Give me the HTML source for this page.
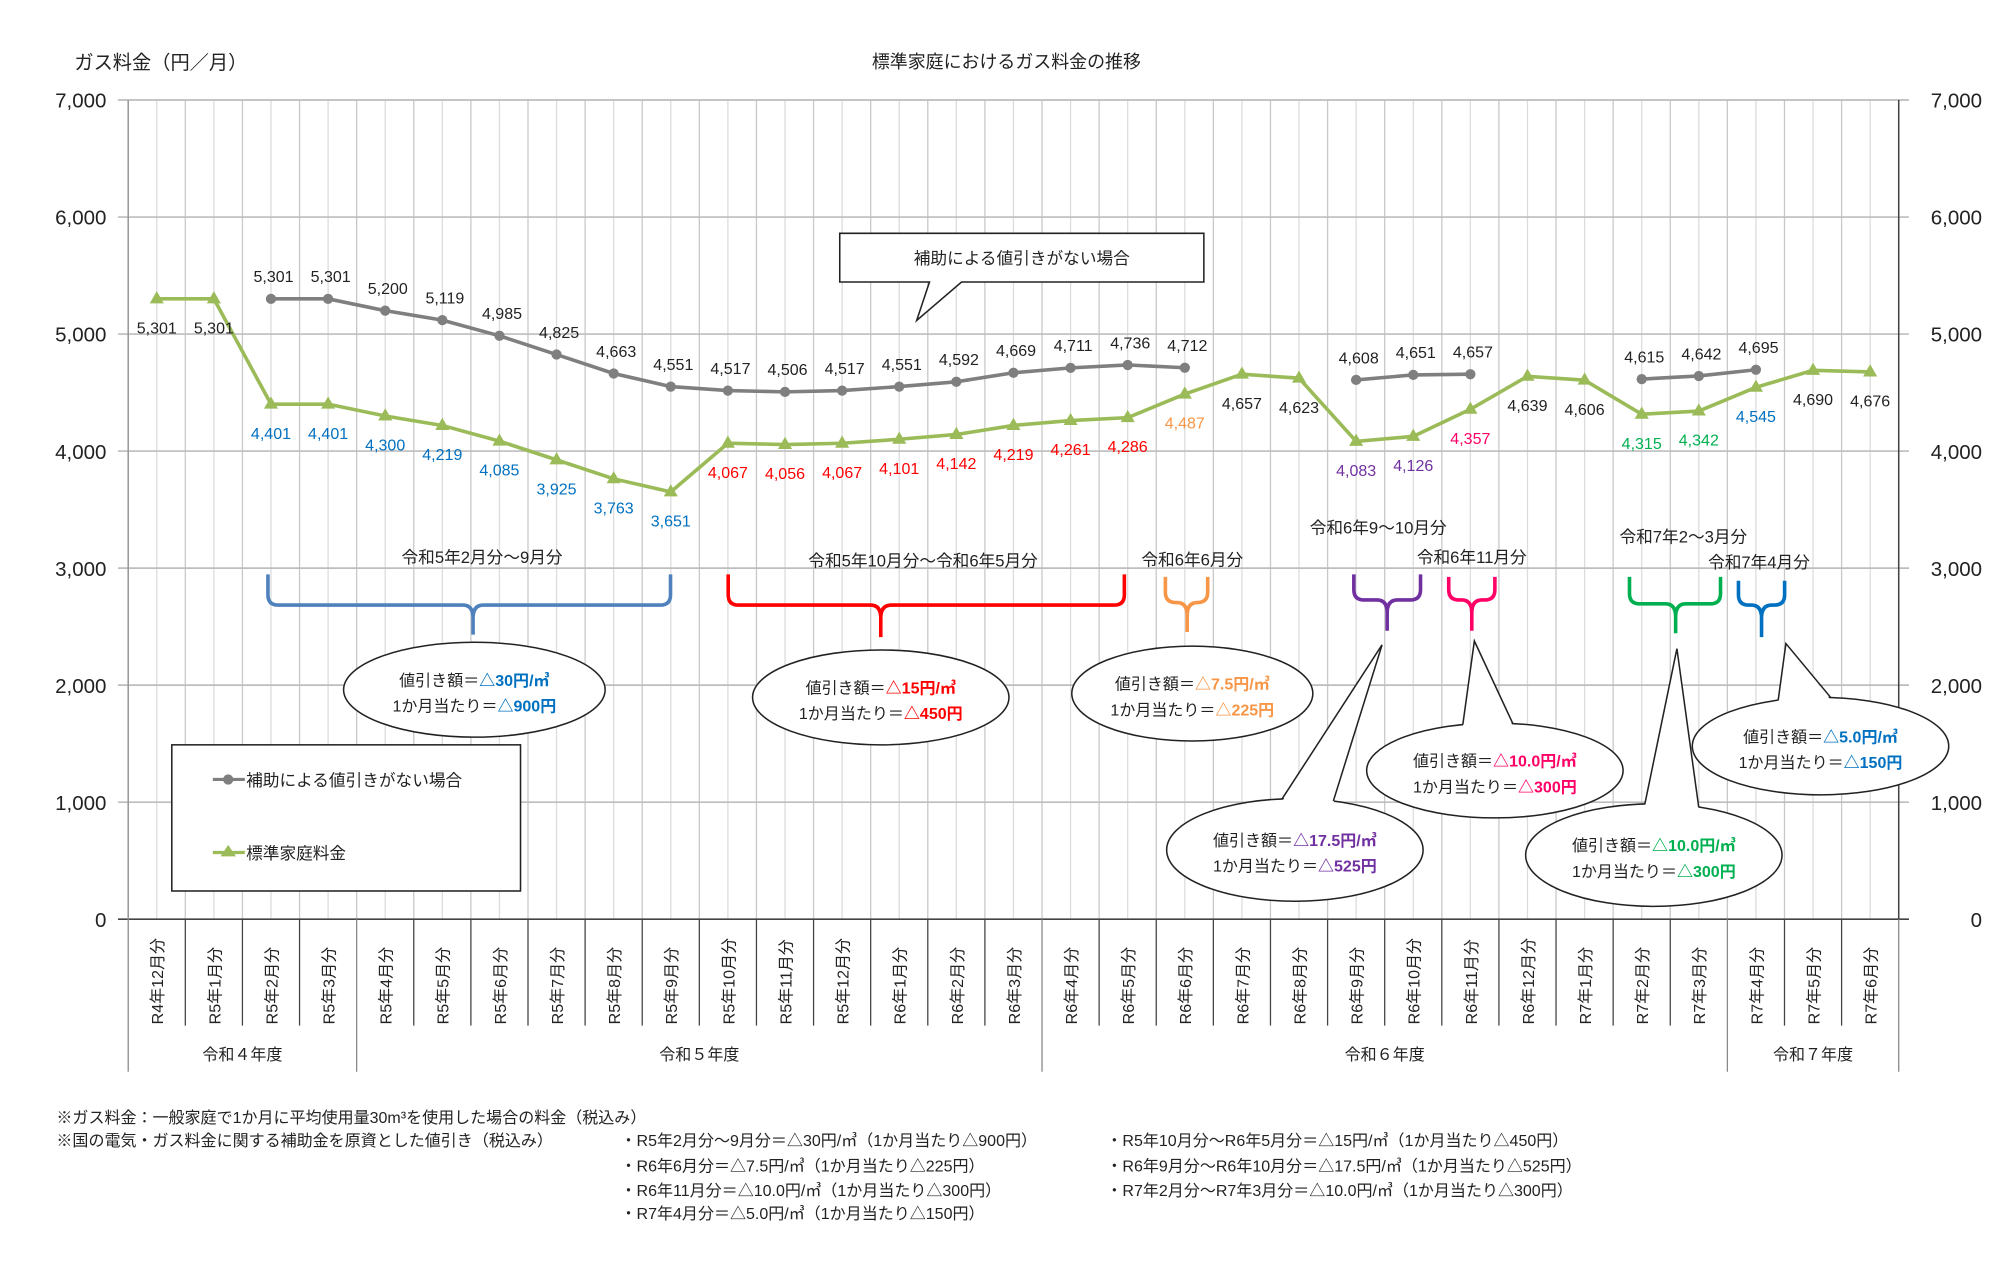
<!DOCTYPE html>
<html><head><meta charset="utf-8"><style>
html,body{margin:0;padding:0;background:#fff;}
svg{display:block;font-family:"Liberation Sans","Noto Sans CJK JP",sans-serif;}
</style></head><body>
<svg id="chart" width="2000" height="1278" viewBox="0 0 1560 996.88" preserveAspectRatio="none" xmlns="http://www.w3.org/2000/svg">
<text x="785" y="53" font-size="14" text-anchor="middle" fill="#222">標準家庭におけるガス料金の推移</text>
<text x="58" y="54" font-size="15" fill="#222">ガス料金（円／月）</text>
<g id="grid"></g><g id="axes"></g><g id="annot"></g><g id="series"></g><g id="labels"></g>
<g>
<rect x="134" y="581" width="272" height="114" fill="#fff" stroke="#222" stroke-width="1.2"/>
<line x1="166" y1="608" x2="191" y2="608" stroke="#7f7f7f" stroke-width="2.5"/><circle cx="178" cy="608" r="4" fill="#7f7f7f"/>
<text x="192" y="613" font-size="13" fill="#222">補助による値引きがない場合</text>
<line x1="166" y1="665" x2="191" y2="665" stroke="#9BBB59" stroke-width="2.5"/><polygon points="178,659 184,668 172,668" fill="#9BBB59"/>
<text x="192" y="670" font-size="13" fill="#222">標準家庭料金</text>
</g>
<g font-size="12.5" fill="#222">
<text x="44" y="876">※ガス料金：一般家庭で1か月に平均使用量30m³を使用した場合の料金（税込み）</text>
<text x="44" y="894">※国の電気・ガス料金に関する補助金を原資とした値引き（税込み）</text>
<text x="484" y="894">・R5年2月分～9月分＝△30円/㎥（1か月当たり△900円）</text>
<text x="863" y="894">・R5年10月分～R6年5月分＝△15円/㎥（1か月当たり△450円）</text>
<text x="484" y="914">・R6年6月分＝△7.5円/㎥（1か月当たり△225円）</text>
<text x="863" y="914">・R6年9月分～R6年10月分＝△17.5円/㎥（1か月当たり△525円）</text>
<text x="484" y="933">・R6年11月分＝△10.0円/㎥（1か月当たり△300円）</text>
<text x="863" y="933">・R7年2月分～R7年3月分＝△10.0円/㎥（1か月当たり△300円）</text>
<text x="484" y="951">・R7年4月分＝△5.0円/㎥（1か月当たり△150円）</text>
</g>
</svg>
<script>
const categories=["R4年12月分","R5年1月分","R5年2月分","R5年3月分","R5年4月分","R5年5月分","R5年6月分","R5年7月分","R5年8月分","R5年9月分","R5年10月分","R5年11月分","R5年12月分","R6年1月分","R6年2月分","R6年3月分","R6年4月分","R6年5月分","R6年6月分","R6年7月分","R6年8月分","R6年9月分","R6年10月分","R6年11月分","R6年12月分","R7年1月分","R7年2月分","R7年3月分","R7年4月分","R7年5月分","R7年6月分"];
const standardValues=[5301,5301,4401,4401,4300,4219,4085,3925,3763,3651,4067,4056,4067,4101,4142,4219,4261,4286,4487,4657,4623,4083,4126,4357,4639,4606,4315,4342,4545,4690,4676];
const noSubsidyValues=[null,null,5301,5301,5200,5119,4985,4825,4663,4551,4517,4506,4517,4551,4592,4669,4711,4736,4712,null,null,4608,4651,4657,null,null,4615,4642,4695,null,null];
const yTicks=[0,1000,2000,3000,4000,5000,6000,7000];
const fiscalYears=["令和４年度","令和５年度","令和６年度","令和７年度"];
const fiscalStarts=[0,4,16,28];
const labelColorKey=["k","k","b","b","b","b","b","b","b","b","r","r","r","r","r","r","r","r","o","k","k","p","p","m","k","k","g","g","b","k","k"];
const colorMap={k:"#222",b:"#0070C0",r:"#FF0000",o:"#F79646",p:"#7030A0",m:"#FF0066",g:"#00B050"};

const NS="http://www.w3.org/2000/svg";
const L=100,R=1481,T=78,B=717,N=categories.length,cw=(R-L)/N;
const x=i=>L+cw*(i+0.5);
const y=v=>B-(v/7000)*(B-T);
function mk(tag,attrs,parent,txt){const e=document.createElementNS(NS,tag);for(const k in attrs)e.setAttribute(k,attrs[k]);if(txt!==undefined)e.textContent=txt;document.getElementById(parent)?document.getElementById(parent).appendChild(e):parent.appendChild(e);return e;}
const fmt=v=>v.toLocaleString("en-US");

// grid
for(let i=0;i<=N;i++){const l=mk("line",{x1:L+cw*i,y1:T,x2:L+cw*i,y2:B,stroke:"#c8c8c8","stroke-width":1},"grid");

}
for(let i=0;i<N;i++){const l=mk("line",{x1:x(i),y1:T,x2:x(i),y2:B,stroke:"#dcdcdc","stroke-width":1},"grid");

}
yTicks.forEach(v=>{const l=mk("line",{x1:L-8,y1:y(v),x2:R+8,y2:y(v),stroke:v===0?"#444":"#bdbdbd","stroke-width":v===0?1.2:1.3},"grid");


const t1=mk("text",{x:L-17,y:y(v)+6,"font-size":16,"text-anchor":"end",fill:"#222"},"axes",fmt(v));


const t2=mk("text",{x:R+65,y:y(v)+6,"font-size":16,"text-anchor":"end",fill:"#222"},"axes",fmt(v));

});
mk("line",{x1:L,y1:T,x2:L,y2:B,stroke:"#999","stroke-width":1.2},"axes");
mk("line",{x1:R,y1:T,x2:R,y2:B,stroke:"#444","stroke-width":1.2},"axes");
// category axis
for(let i=0;i<=N;i++){const fy=fiscalStarts.includes(i)||i===N;
const l=mk("line",{x1:L+cw*i,y1:B,x2:L+cw*i,y2:fy?836:800,stroke:fy?"#888":"#444","stroke-width":1},"axes");

}
categories.forEach((c,i)=>{const t=mk("text",{x:0,y:0,"font-size":12.5,fill:"#222",transform:`translate(${x(i)+5},799) rotate(-90)`},"axes",c);

});
fiscalYears.forEach((f,k)=>{const s=fiscalStarts[k],e=k<fiscalStarts.length-1?fiscalStarts[k+1]:N;
const t=mk("text",{x:L+cw*(s+e)/2,y:827,"font-size":12.5,"text-anchor":"middle",fill:"#222"},"axes",f);

});

// series
function segs(vals){const out=[];let cur=[];vals.forEach((v,i)=>{if(v==null){if(cur.length)out.push(cur);cur=[];}else cur.push([x(i),y(v)]);});if(cur.length)out.push(cur);return out;}
segs(noSubsidyValues).forEach(s=>{const p=mk("polyline",{points:s.map(q=>q.join(",")).join(" "),fill:"none",stroke:"#7f7f7f","stroke-width":2.8},"series");

});
const sp=mk("polyline",{points:standardValues.map((v,i)=>x(i)+","+y(v)).join(" "),fill:"none",stroke:"#9BBB59","stroke-width":2.8},"series");


noSubsidyValues.forEach((v,i)=>{if(v==null)return;
const c=mk("circle",{cx:x(i),cy:y(v),r:4,fill:"#7f7f7f"},"series");


const t=mk("text",{x:x(i)+2,y:y(v)-13,"font-size":12.5,"text-anchor":"middle",fill:"#222"},"labels",fmt(v));

});
standardValues.forEach((v,i)=>{const px=x(i),py=y(v);
const m=mk("polygon",{points:`${px},${py-6} ${px+5.5},${py+3.5} ${px-5.5},${py+3.5}`,fill:"#9BBB59"},"series");


const t=mk("text",{x:px,y:py+27,"font-size":12.5,"text-anchor":"middle",fill:colorMap[labelColorKey[i]]},"labels",fmt(v));

});

// annotations
function bracket(x1,x2,cx,top,mid,bot,color,label,lx,ly,name){
const g=mk("g",{},"annot");


mk("path",{d:`M${x1},${top} L${x1},${mid-8} Q${x1},${mid} ${x1+8},${mid} L${cx-8},${mid} Q${cx},${mid} ${cx},${mid+10} L${cx},${bot} M${cx},${mid+10} Q${cx},${mid} ${cx+8},${mid} L${x2-8},${mid} Q${x2},${mid} ${x2},${mid-8} L${x2},${top}`,fill:"none",stroke:color,"stroke-width":2.8},g);
mk("text",{x:lx,y:ly,"font-size":13,"text-anchor":"middle",fill:"#222"},g,label);}
bracket(209,523,369,448,472,495,"#4F81BD","令和5年2月分～9月分",376,439,"bracket-r5-feb-sep");
bracket(568,877,687,448,472,497,"#FF0000","令和5年10月分～令和6年5月分",720,442,"bracket-r5-oct-r6-may");
bracket(909,942,926,450,470,493,"#F79646","令和6年6月分",930,441,"bracket-r6-jun");
bracket(1056,1108,1082,448,468,492,"#7030A0","令和6年9～10月分",1075,416,"bracket-r6-sep-oct");
bracket(1130,1166,1148,450,468,492,"#FF0066","令和6年11月分",1148,439,"bracket-r6-nov");
bracket(1271,1342,1307,450,471,494,"#00B050","令和7年2～3月分",1313,423,"bracket-r7-feb-mar");
bracket(1356,1392,1374,453,472,497,"#0070C0","令和7年4月分",1372,443,"bracket-r7-apr");

function callout(cx,cy,rx,ry,tail,col,l1,l2,name){
const g=mk("g",{},"annot");


mk("ellipse",{cx,cy,rx,ry,fill:"#fff",stroke:"#222","stroke-width":1.2},g);
if(tail){const [a,b,tx,ty]=tail;
const ey=dx=>cy-ry*Math.sqrt(Math.max(0,1-(dx/rx)**2));
const ya=ey(a-cx),yb=ey(b-cx);
mk("polygon",{points:`${a},${ya+2} ${tx},${ty} ${b},${yb+2}`,fill:"#fff",stroke:"none"},g);
mk("polyline",{points:`${a},${ya} ${tx},${ty} ${b},${yb}`,fill:"none",stroke:"#222","stroke-width":1.2},g);}
const t1=mk("text",{x:cx,y:cy-3,"font-size":12.5,"text-anchor":"middle",fill:"#222"},g);
mk("tspan",{},t1,"値引き額＝");mk("tspan",{fill:col,"font-weight":"bold"},t1,l1);
const t2=mk("text",{x:cx,y:cy+17,"font-size":12.5,"text-anchor":"middle",fill:"#222"},g);
mk("tspan",{},t2,"1か月当たり＝");mk("tspan",{fill:col,"font-weight":"bold"},t2,l2);}
callout(370,538,102,37,null,"#0070C0","△30円/㎥","△900円","callout-30yen");
callout(687,544,100,37,null,"#FF0000","△15円/㎥","△450円","callout-15yen");
callout(930,541,94,37,null,"#F79646","△7.5円/㎥","△225円","callout-7-5yen");
callout(1010,663,100,40,[1000,1040,1078,503],"#7030A0","△17.5円/㎥","△525円","callout-17-5yen");
callout(1166,601,100,37,[1141,1180,1150,500],"#FF0066","△10.0円/㎥","△300円","callout-10yen-nov");
callout(1290,667,100,40,[1283,1325,1308,506],"#00B050","△10.0円/㎥","△300円","callout-10yen-feb");
callout(1420,582,100,38,[1387,1428,1393,502],"#0070C0","△5.0円/㎥","△150円","callout-5yen");

// no-subsidy callout box
const cb=mk("g",{},"annot");


mk("path",{d:"M655,182 L939,182 L939,220 L750,220 L715,250 L725,220 L655,220 Z",fill:"#fff",stroke:"#222","stroke-width":1.2},cb);
mk("text",{x:797,y:206,"font-size":13,"text-anchor":"middle",fill:"#222"},cb,"補助による値引きがない場合");
</script>
</body></html>
